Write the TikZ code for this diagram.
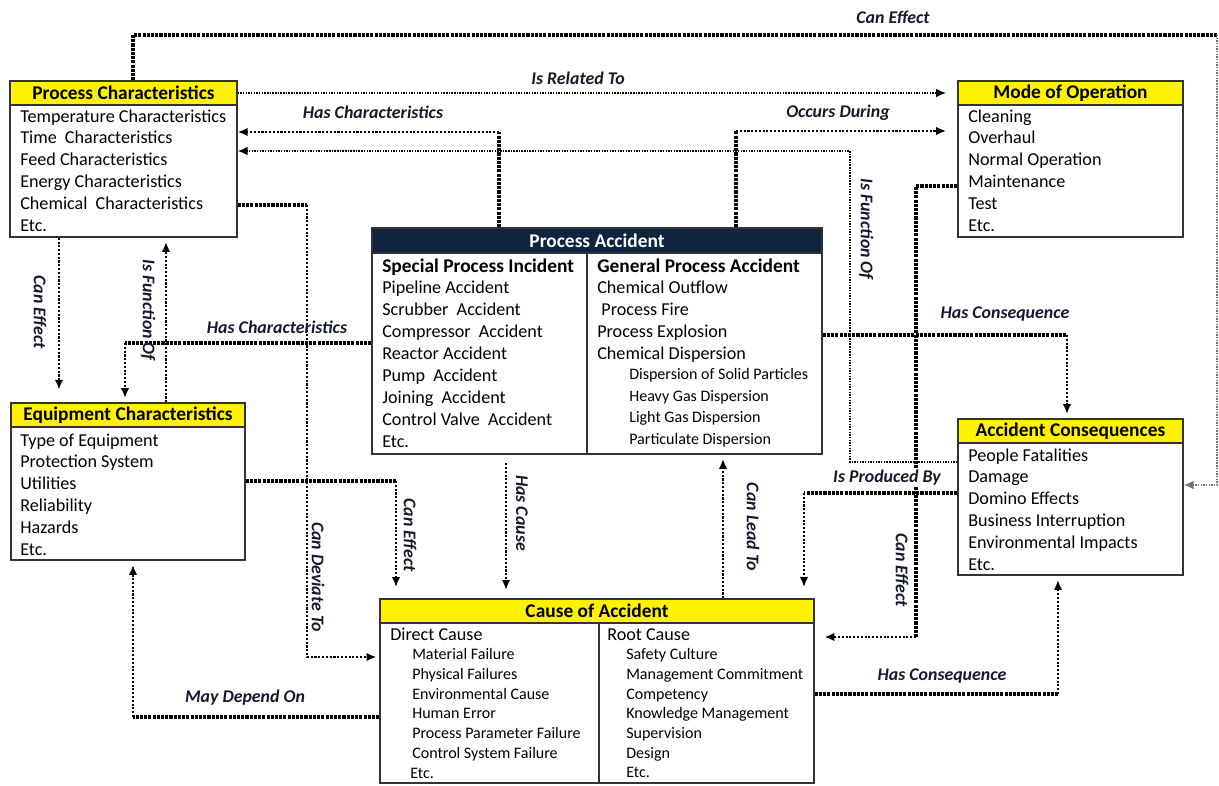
\documentclass[tikz,border=0pt]{standalone}
\usepackage{fontspec}
\setmainfont{Carlito}
\usetikzlibrary{arrows.meta,positioning}

\definecolor{navyhead}{HTML}{10233F}
\definecolor{inkdark}{HTML}{141A2C}

\tikzset{
  box/.style={draw=black!80, line width=1pt, inner sep=0pt},
  headbar/.style={draw=black!80, line width=1pt, fill=yellow, inner sep=0pt,
    minimum height=24*0.025cm, font=\fontsize{13.8}{16}\selectfont\bfseries},
  item/.style={anchor=base west, inner sep=0pt, font=\fontsize{12.9}{15}\selectfont},
  subitem/.style={anchor=base west, inner sep=0pt, font=\fontsize{11.4}{13}\selectfont},
  rel/.style={inner sep=1pt, text=inkdark, font=\fontsize{12.7}{15}\selectfont\bfseries\itshape},
  heavy/.style={line width=2.3pt, dash pattern=on 2.2pt off 0.8pt},
  mid/.style={line width=1.5pt, dash pattern=on 1.5pt off 1.2pt},
  light/.style={line width=1pt, dash pattern=on 1pt off 0.9pt},
  tip/.style={-{Latex[length=7pt,width=6pt]}}
}

\begin{document}
\begin{tikzpicture}[x=0.025cm, y=-0.025cm]
  \useasboundingbox (0,0) rectangle (1219,785);

  % Boxes
  \node[box, minimum width=227*0.025cm, minimum height=156*0.025cm] (pc) at (123.5,159) {};
  \node[headbar, minimum width=227*0.025cm, anchor=north] (pct) at (pc.north) {Process Characteristics};
  \foreach \txt [count=\i from 0] in {Temperature Characteristics, Time\ \ Characteristics,
      Feed Characteristics, Energy Characteristics, Chemical\ \ Characteristics, Etc.}
    \node[item] (pc-\i) at (20,122+21.8*\i) {\txt};

  \node[box, minimum width=225*0.025cm, minimum height=156*0.025cm] (mo) at (1070.5,159) {};
  \node[headbar, minimum width=225*0.025cm, anchor=north] (mot) at (mo.north) {Mode of Operation};
  \foreach \txt [count=\i from 0] in {Cleaning, Overhaul, Normal Operation, Maintenance, Test, Etc.}
    \node[item] (mo-\i) at (968,122+21.8*\i) {\txt};

  \node[box, minimum width=450*0.025cm, minimum height=226*0.025cm] (pa) at (597,341) {};
  \node[headbar, fill=navyhead, text=white, minimum width=450*0.025cm, minimum height=25*0.025cm,
    anchor=north] (pat) at (pa.north) {Process Accident};
  \draw[draw=black!80, line width=1pt] (pat.south -| 587,0) -- (pa.south -| 587,0);
  \node[item, font=\fontsize{13.8}{16}\selectfont\bfseries] (pa-l0) at (382,272) {Special Process Incident};
  \foreach \txt [count=\i] in {Pipeline Accident, Scrubber\ \ Accident, Compressor\ \ Accident,
      Reactor Accident, Pump\ \ Accident, Joining\ \ Accident, Control Valve\ \ Accident, Etc.}
    \node[item] (pa-l\i) at (382,272+21.9*\i) {\txt};
  \node[item, font=\fontsize{13.8}{16}\selectfont\bfseries] (pa-r0) at (597,272) {General Process Accident};
  \foreach \txt [count=\i] in {Chemical Outflow, \ Process Fire, Process Explosion, Chemical Dispersion}
    \node[item] (pa-r\i) at (597,272+21.9*\i) {\txt};
  \foreach \txt [count=\i from 5] in {Dispersion of Solid Particles, Heavy Gas Dispersion,
      Light Gas Dispersion, Particulate Dispersion}
    \node[subitem] (pa-r\i) at (629,271+21.7*\i) {\txt};

  \node[box, minimum width=234*0.025cm, minimum height=157*0.025cm] (ec) at (128,481.5) {};
  \node[headbar, minimum width=234*0.025cm, anchor=north] (ect) at (ec.north) {Equipment Characteristics};
  \foreach \txt [count=\i from 0] in {Type of Equipment, Protection System, Utilities, Reliability,
      Hazards, Etc.}
    \node[item] (ec-\i) at (20,446+21.8*\i) {\txt};

  \node[box, minimum width=225*0.025cm, minimum height=156*0.025cm] (ac) at (1070.5,497) {};
  \node[headbar, minimum width=225*0.025cm, anchor=north] (act) at (ac.north) {Accident Consequences};
  \foreach \txt [count=\i from 0] in {People Fatalities, Damage, Domino Effects, Business Interruption,
      Environmental Impacts, Etc.}
    \node[item] (ac-\i) at (968,461+21.8*\i) {\txt};

  \node[box, minimum width=434*0.025cm, minimum height=184*0.025cm] (ca) at (597,691) {};
  \node[headbar, minimum width=434*0.025cm, anchor=north] (cat) at (ca.north) {Cause of Accident};
  \draw[draw=black!80, line width=1pt] (cat.south -| 599,0) -- (ca.south -| 599,0);
  \node[item] (ca-l0) at (390,640) {Direct Cause};
  \foreach \txt [count=\i] in {Material Failure, Physical Failures, Environmental Cause, Human Error,
      Process Parameter Failure, Control System Failure}
    \node[subitem] (ca-l\i) at (412,640+19.7*\i) {\txt};
  \node[subitem] (ca-l7) at (410,778) {Etc.};
  \node[item] (ca-r0) at (607,640) {Root Cause};
  \foreach \txt [count=\i] in {Safety Culture, Management Commitment, Competency, Knowledge Management,
      Supervision, Design, Etc.}
    \node[subitem] (ca-r\i) at (626,640+19.7*\i) {\txt};

  % Connectors
  \coordinate (ceA) at (133,35);
  \coordinate (ceB) at (1217,35);
  \draw[heavy] (pc.north -| ceA) -- (ceA) -- (ceB);
  \draw[light, draw=black!55, tip] (ceB) |- (ac.east |- 0,485);

  \draw[light, tip, shorten >=8pt] (pct.east) -- (pct.east -| mo.west);

  \coordinate (hcA) at (499,132);
  \draw[heavy] (pa.north -| hcA) -- (hcA);
  \draw[mid, tip] (hcA) -- (hcA -| pc.east);

  \coordinate (ifA) at (850,462);
  \coordinate (ifB) at (850,151);
  \draw[light, tip] (ac.west |- ifA) -- (ifA) -- (ifB) -- (ifB -| pc.east);

  \coordinate (odA) at (736,131);
  \draw[heavy] (pa.north -| odA) -- (odA);
  \draw[mid, tip, shorten >=8pt] (odA) -- (odA -| mo.west);

  \coordinate (cmA) at (916,186);
  \coordinate (cmB) at (916,637);
  \draw[heavy] (mo.west |- cmA) -- (cmA) -- (cmB);
  \draw[mid, tip, shorten >=7pt] (cmB) -- (cmB -| ca.east);

  \draw[mid, tip, shorten >=9pt] (pc.south -| 59,0) -- (ec.north -| 59,0);
  \draw[mid, tip, shorten >=3pt] (ec.north -| 166,0) -- (pc.south -| 166,0);

  \coordinate (hcB) at (125,343);
  \draw[heavy] (pa.west |- hcB) -- (hcB);
  \draw[mid, tip, shorten >=3pt] (hcB) -- (hcB |- ec.north);

  \coordinate (cdA) at (307,205);
  \coordinate (cdB) at (307,657);
  \draw[heavy] (pc.east |- cdA) -- (cdA);
  \draw[mid, tip, shorten >=2pt] (cdA) -- (cdB) -- (cdB -| ca.west);

  \coordinate (ceC) at (396,481);
  \draw[heavy] (ec.east |- ceC) -- (ceC);
  \draw[mid, tip, shorten >=8pt] (ceC) -- (ceC |- ca.north);

  \draw[mid, tip, shorten <=6pt, shorten >=6pt] (pa.south -| 506,0) -- (ca.north -| 506,0);
  \draw[mid, tip, shorten >=3pt] (ca.north -| 723,0) -- (pa.south -| 723,0);

  \coordinate (hqA) at (1067,335);
  \draw[heavy] (pa.east |- hqA) -- (hqA);
  \draw[mid, tip, shorten >=3pt] (hqA) -- (hqA |- ac.north);

  \coordinate (ipA) at (804,493);
  \draw[heavy] (ac.west |- ipA) -- (ipA);
  \draw[mid, tip, shorten >=8pt] (ipA) -- (ipA |- ca.north);

  \coordinate (hqB) at (1058,694);
  \draw[heavy] (ca.east |- hqB) -- (hqB);
  \draw[mid, tip, shorten >=3pt] (hqB) -- (hqB |- ac.south);

  \coordinate (mdA) at (133,717);
  \draw[heavy] (ca.west |- mdA) -- (mdA);
  \draw[mid, tip, shorten >=3pt] (mdA) -- (mdA |- ec.south);

  % Labels
  \node[rel] (l-ce1) at (893,17) {Can Effect};
  \node[rel] (l-irt) at (578,78) {Is Related To};
  \node[rel] (l-hc1) at (373,112) {Has Characteristics};
  \node[rel] (l-od) at (838,113) {Occurs During};
  \node[rel, rotate=-90] (l-if1) at (866,229) {Is Function Of};
  \node[rel, rotate=-90] (l-ce2) at (40,312) {Can Effect};
  \node[rel, rotate=-90] (l-if2) at (148,310) {Is Function Of};
  \node[rel] (l-hc2) at (277,327) {Has Characteristics};
  \node[rel] (l-hq1) at (1005,314) {Has Consequence};
  \node[rel, rotate=-90] (l-ce3) at (410,535) {Can Effect};
  \node[rel, rotate=-90] (l-hca) at (522,513) {Has Cause};
  \node[rel, rotate=-90] (l-cd) at (318,577) {Can Deviate To};
  \node[rel, rotate=-90] (l-clt) at (753,527) {Can Lead To};
  \node[rel, fill=white] (l-ipb) at (887,478) {Is Produced By};
  \node[rel, rotate=-90] (l-ce4) at (902,570) {Can Effect};
  \node[rel] (l-hq2) at (942,676) {Has Consequence};
  \node[rel] (l-md) at (245,698) {May Depend On};
\end{tikzpicture}
\end{document}
